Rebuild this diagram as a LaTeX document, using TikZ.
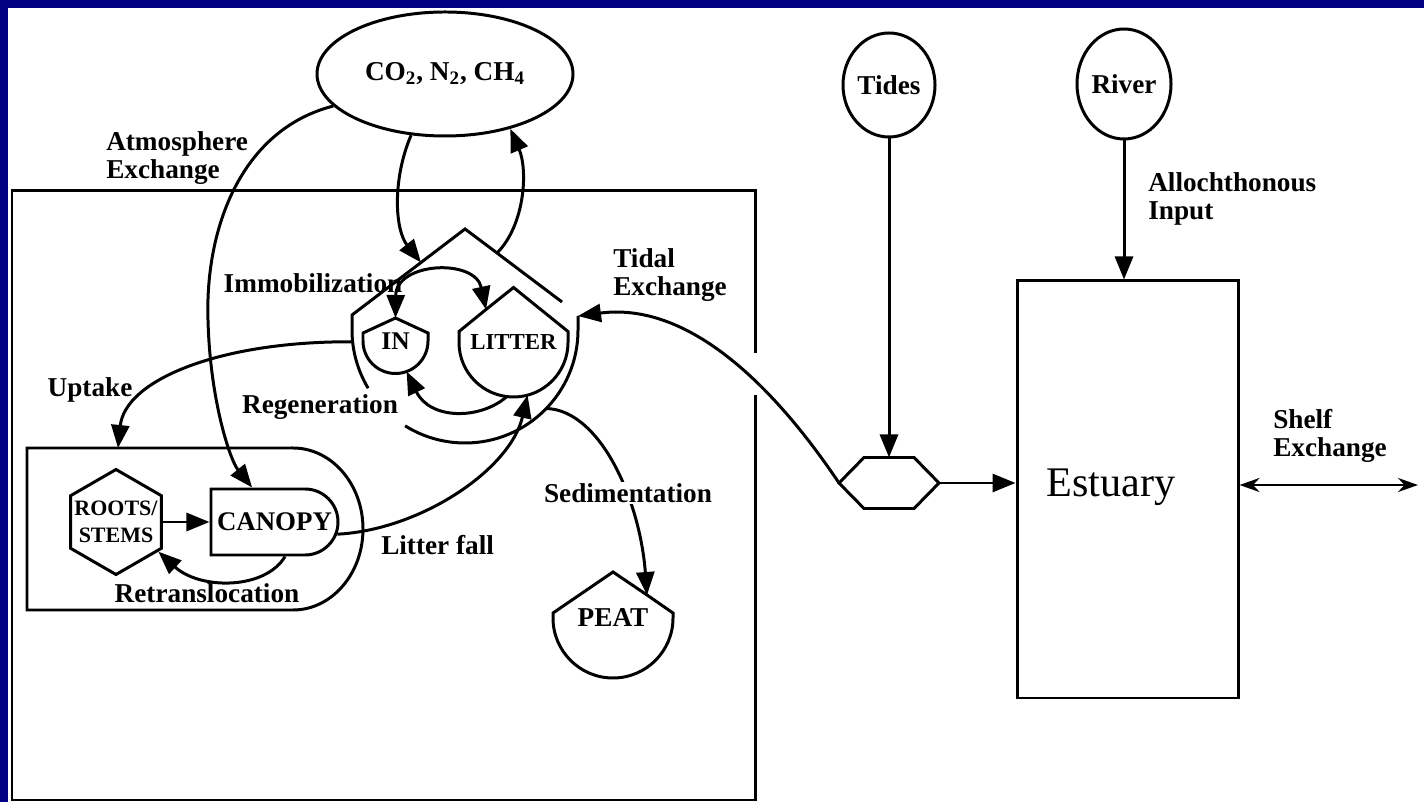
\documentclass[tikz,border=0pt]{standalone}
\usepackage{fontspec}
\setmainfont{Liberation Serif}
\usepackage{tikz}
\usetikzlibrary{arrows.meta, shapes.geometric, shapes.misc}
\definecolor{slideblue}{RGB}{0,0,128}

\begin{document}
\begin{tikzpicture}[x=0.2mm, y=0.2mm, line width=1.7pt]
    \tikzstyle{flow} = [-{Triangle[length=4.6mm, width=3.6mm]}]
    \tikzstyle{note} = [font=\fontsize{15.5}{15.5}\selectfont\bfseries, align=left, inner sep=1pt]
    \tikzstyle{tank} = [circle, inner sep=0pt, outer sep=0pt, font=\fontsize{15.5}{15.5}\selectfont\bfseries]
    \tikzstyle{source} = [ellipse, draw, inner sep=0pt, font=\fontsize{15.5}{15.5}\selectfont\bfseries]

    % slide background
    \useasboundingbox (0,0) rectangle (1424,802);
    \fill [slideblue] (0,0) rectangle (1424,802);
    \fill [white] (8,0) rectangle (1424,794);

    % marsh box, left open where the tidal flow passes
    \draw (755,449) -- (755,611) -- (12,611) -- (12,2) -- (755,2) -- (755,407);

    \node [source, minimum width=51.2mm, minimum height=24.8mm] (atm) at (445,728)
        {CO\textsubscript{2}, N\textsubscript{2}, CH\textsubscript{4}};
    \node [source, minimum width=18.4mm, minimum height=20.8mm] (tides) at (889,717) {Tides};
    \node [source, minimum width=18.8mm, minimum height=22mm] (river) at (1124,718) {River};

    \node [draw, minimum width=44.2mm, minimum height=83.4mm] (estuary) at (1127.5,312.5) {};
    \node [font=\fontsize{24}{24}\selectfont] (estuary-name) at (1111,315) {Estuary};

    % tidal mixing
    \node [minimum width=20mm, minimum height=10.2mm, inner sep=0pt, outer sep=0pt] (mix) at (889,319) {};
    \draw (mix.west) -- ++(25,25.5) -- ++(50,0) -- (mix.east) -- ++(-25,-25.5) -- ++(-50,0) -- cycle;

    % detritus pool holding IN and LITTER
    \node [tank, minimum size=45.2mm] (pool) at (465,472) {};
    \draw (pool.211) arc[start angle=211, end angle=180, radius=22.6mm] -- ++(0,15)
        -- ++(69,52.5) coordinate (pool-nw) -- ++(44,33.5)
        -- ++(32,-24) coordinate (pool-ne) -- ++(65,-49);
    \draw (pool.east) ++(0,14) coordinate (pool-e) -- (pool.east)
        arc[start angle=0, end angle=-122, radius=22.6mm];

    \node [tank, minimum size=13mm, font=\fontsize{14.5}{14.5}\selectfont\bfseries] (inorg) at (395.5,461) {IN};
    \draw (inorg.west) -- ++(0,8) -- ++(32.5,15) coordinate (inorg-top) -- ++(32.5,-15) -- ++(0,-8)
        arc[start angle=0, end angle=-180, radius=6.5mm];

    \node [tank, minimum size=21.8mm, font=\fontsize{13}{13}\selectfont\bfseries] (litter) at (513.5,459.5) {LITTER};
    \draw (litter.west) -- ++(0,11) -- ++(27,22) coordinate (litter-nw) -- ++(27.5,22)
        -- ++(54.5,-44) -- ++(0,-11) arc[start angle=0, end angle=-180, radius=10.9mm];

    \node [tank, minimum size=24mm] (peat) at (613,184) {PEAT};
    \draw (peat.west) -- ++(0,5) -- ++(60,41) -- ++(34,-23) coordinate (peat-ne) -- ++(26,-18)
        -- ++(0,-5) arc[start angle=0, end angle=-180, radius=12mm];

    % plants
    \draw (293,354) -- (118,354) coordinate (plants-n) -- (27,354) -- (27,192) -- (293,192)
        arc[start angle=-90, end angle=90, x radius=14mm, y radius=16.2mm] -- cycle;
    \node [draw, regular polygon, regular polygon sides=6, shape border rotate=30, minimum size=21mm, inner sep=0pt,
        label={[font=\fontsize{12.5}{15}\selectfont\bfseries, align=center]center:ROOTS/\\STEMS}] (roots) at (116,280) {};
    \node [draw, rounded rectangle, rounded rectangle left arc=none, minimum width=25.4mm, minimum height=13.2mm,
        inner sep=0pt, label={[font=\fontsize{15.3}{15.3}\selectfont\bfseries]center:CANOPY}] (canopy) at (274.5,280) {};

    \draw [flow] (roots) -- (canopy);
    \draw [flow] (canopy.-73) .. controls (265,212) and (200,212) .. (roots.-35);
    \draw [flow] (atm.196) .. controls (240,672) and (205,572) .. (208,482)
        .. controls (210,402) and (230,342) .. (canopy.123);
    \draw [flow] (pool.186) .. controls (220,461) and (125,422) .. (plants-n);
    \draw [flow] (atm.241) .. controls (392,622) and (395,572) .. (pool-nw);
    \draw [flow] (pool-ne) .. controls (525,577) and (528,632) .. (atm.-40);
    \draw [{Triangle[length=4.6mm, width=3.6mm]}-{Triangle[length=4.6mm, width=3.6mm]}]
        (inorg-top) .. controls (396,540) and (475,544) .. (litter-nw);
    \draw [flow] (litter.-97) .. controls (480,382) and (430,382) .. (inorg.-70);
    \draw [flow] (canopy.-11) .. controls (420,272) and (510,332) .. (litter.-75);
    \draw [flow] (pool.-44) .. controls (600,392) and (640,302) .. (peat-ne);

    \draw [flow] (mix.west) .. controls (790,392) and (700,502) .. (pool-e);
    \draw [flow] (tides) -- (mix);
    \draw [flow] (river) -- (river |- estuary.north);
    \draw [flow] (mix) -- (mix -| estuary.west);
    \coordinate (shelf) at (1418,317);
    \draw [{Stealth[length=4mm, width=2.8mm]}-{Stealth[length=4mm, width=2.8mm]}] (shelf -| estuary.east) -- (shelf);

    \node [note, anchor=west] (atm-label) at (103,644) {Atmosphere\\Exchange};
    \node [note] (immob-label) at (313,519) {Immobilization};
    \node [note] (uptake-label) at (90,412) {Uptake};
    \node [note] (regen-label) at (320,395) {Regeneration};
    \node [note] (retrans-label) at (207,209) {Retranslocation};
    \node [note, anchor=west] (fall-label) at (378,257) {Litter fall};
    \node [note, fill=white] (sed-label) at (628,309) {Sedimentation};
    \node [note, anchor=west] (tidal-label) at (610,527) {Tidal\\Exchange};
    \node [note, anchor=west] (input-label) at (1145,603) {Allochthonous\\Input};
    \node [note, anchor=west] (shelf-label) at (1270,366) {Shelf\\Exchange};
\end{tikzpicture}
\end{document}
